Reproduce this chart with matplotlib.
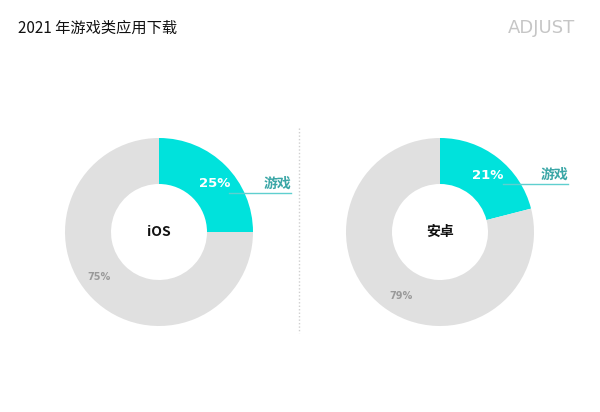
import matplotlib
matplotlib.use("Agg")
import matplotlib.pyplot as plt

plt.rcParams['font.family'] = ['Noto Sans CJK SC', 'DejaVu Sans']

title = "2021 年游戏类应用下载"
platforms = ["iOS", "安卓"]
game_share = [25, 21]
other_share = [75, 79]
seg_label = "游戏"

cyan = "#00e2dc"
grey = "#e0e0e0"
teal_text = "#3aa6a6"

fig = plt.figure(figsize=(6, 4.12), dpi=100)
ax = fig.add_axes([0, 0, 1, 1])
H = 412

centers = [(159, H - 232), (440, H - 232)]
R = 94
W = 46

for i, (cx, cy) in enumerate(centers):
    ax.pie([game_share[i], other_share[i]], colors=[cyan, grey], startangle=90,
           counterclock=False, center=(cx, cy), radius=R, frame=True,
           wedgeprops=dict(width=W, linewidth=0))
    ax.text(cx, cy, platforms[i], ha="center", va="center", fontsize=10,
            fontweight="bold", color="#111111")

# percent labels
num_font = dict(family="DejaVu Sans", fontweight="bold", ha="center", va="center")
ax.text(215, H - 183, f"{game_share[0]}%", fontsize=9.5, color="white", **num_font)
ax.text(99, H - 277, f"{other_share[0]}%", fontsize=7, color="#9a9a9a", **num_font)
ax.text(488, H - 175, f"{game_share[1]}%", fontsize=9.5, color="white", **num_font)
ax.text(401, H - 296, f"{other_share[1]}%", fontsize=7, color="#9a9a9a", **num_font)

# leader lines + labels
ax.plot([229, 291], [H - 193, H - 193], color="#5fcfcf", lw=1)
ax.text(291, H - 184, seg_label, ha="right", va="center", fontsize=10,
        fontweight="bold", color=teal_text)
ax.plot([503, 568], [H - 184, H - 184], color="#5fcfcf", lw=1)
ax.text(568, H - 175, seg_label, ha="right", va="center", fontsize=10,
        fontweight="bold", color=teal_text)

# separator
ax.plot([299, 299], [H - 128, H - 333], color="#cfcfcf", lw=1, ls=(0, (1, 1.5)))

# header
ax.text(18, H - 28, title, ha="left", va="center", fontsize=11, color="#111111")
ax.text(575, H - 28, "ADJUST", ha="right", va="center", fontsize=13,
        color="#c6c6c6", family="DejaVu Sans")

ax.set_xlim(0, 600)
ax.set_ylim(0, H)
ax.set_aspect("auto")
ax.axis("off")

fig.savefig("out.png", dpi=100)
